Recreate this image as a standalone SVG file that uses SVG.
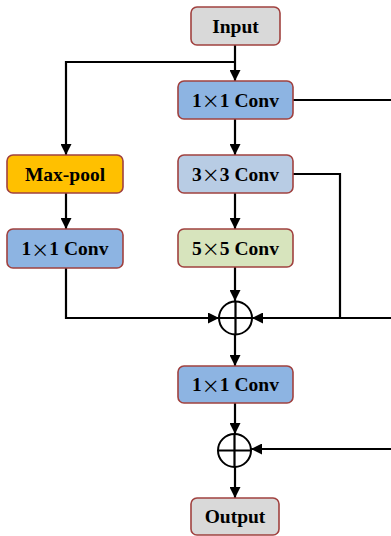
<svg xmlns="http://www.w3.org/2000/svg" width="391" height="536" viewBox="0 0 391 536">
<style>
.box{stroke:#a0413f;stroke-width:1.6}
.t{font-family:"Liberation Serif","Times New Roman",serif;font-weight:bold;font-size:19.5px;fill:#000;text-anchor:middle;dominant-baseline:central}
.x{font-family:"Noto Sans CJK SC",sans-serif;font-weight:normal;font-size:18px}
.ln{fill:none;stroke:#000;stroke-width:2.2}
.arr{fill:none;stroke:#000;stroke-width:2.2;marker-end:url(#ah)}
.c{fill:#fff;stroke:#000;stroke-width:2}
</style>
<defs>
<marker id="ah" viewBox="0 0 10 10" refX="10" refY="5" markerWidth="5" markerHeight="5" orient="auto" markerUnits="strokeWidth">
<path d="M0,0 L10,5 L0,10 z" fill="#000"/>
</marker>
</defs>
<rect width="391" height="536" fill="#fff"/>
<g id="connectors">
<path class="arr" d="M235,45 V81"/>
<path class="arr" d="M235,62 H66 V155"/>
<path class="arr" d="M66,193 V229"/>
<path class="arr" d="M66,268 V318 H219"/>
<path class="arr" d="M235,119 V155"/>
<path class="arr" d="M235,193 V229"/>
<path class="arr" d="M235,267 V301"/>
<path class="ln" d="M293,100 H391"/>
<path class="ln" d="M293,174 H340 V318"/>
<path class="arr" d="M391,318 H252"/>
<path class="arr" d="M235,335 V366"/>
<path class="arr" d="M235,403 V434"/>
<path class="arr" d="M391,449 H251"/>
<path class="arr" d="M235,467 V498"/>
</g>
<g id="input"><rect class="box" x="191" y="7" width="89" height="38" rx="6" fill="#d9d9d9"/><text class="t" x="235.5" y="26">Input</text></g>
<g id="conv1"><rect class="box" x="178" y="81" width="115" height="38" rx="6" fill="#8db4e2"/><text class="t" x="235.5" y="100">1<tspan class="x">×</tspan>1 Conv</text></g>
<g id="maxpool"><rect class="box" x="7" y="155" width="116" height="38" rx="6" fill="#ffc000"/><text class="t" x="65" y="174">Max-pool</text></g>
<g id="conv1b"><rect class="box" x="7" y="229" width="116" height="39" rx="6" fill="#8db4e2"/><text class="t" x="65" y="248.5">1<tspan class="x">×</tspan>1 Conv</text></g>
<g id="conv3"><rect class="box" x="178" y="155" width="115" height="38" rx="6" fill="#b8cce4"/><text class="t" x="235.5" y="174">3<tspan class="x">×</tspan>3 Conv</text></g>
<g id="conv5"><rect class="box" x="178" y="229" width="115" height="38" rx="6" fill="#d7e4bd"/><text class="t" x="235.5" y="248">5<tspan class="x">×</tspan>5 Conv</text></g>
<g id="add1"><circle class="c" cx="235.5" cy="318" r="16.5"/><path class="ln" d="M235.5,301.5 V334.5 M219,318 H252"/></g>
<g id="conv1c"><rect class="box" x="178" y="366" width="115" height="37" rx="6" fill="#8db4e2"/><text class="t" x="235.5" y="384.5">1<tspan class="x">×</tspan>1 Conv</text></g>
<g id="add2"><circle class="c" cx="234.5" cy="450.5" r="16.5"/><path class="ln" d="M234.5,434 V467 M218,450.5 H251"/></g>
<g id="output"><rect class="box" x="191" y="498" width="88" height="37" rx="6" fill="#d9d9d9"/><text class="t" x="235" y="516.5">Output</text></g>
</svg>
